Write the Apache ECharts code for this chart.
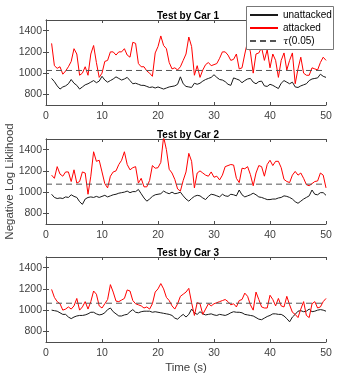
<!DOCTYPE html>
<html>
<head>
<meta charset="utf-8">
<script src="https://cdn.jsdelivr.net/npm/echarts@6/dist/echarts.min.js"></script>
<style>
  html, body { margin: 0; padding: 0; background: #fff; }
  #chart { width: 360px; height: 377px; }
</style>
</head>
<body>
<div id="chart"></div>
<script>
// time axis (s), one reading every 0.5 s
var time = [
  1, 1.5, 2, 2.5, 3, 3.5, 4, 4.5, 5, 5.5,
  6, 6.5, 7, 7.5, 8, 8.5, 9, 9.5, 10, 10.5,
  11, 11.5, 12, 12.5, 13, 13.5, 14, 14.5, 15, 15.5,
  16, 16.5, 17, 17.5, 18, 18.5, 19, 19.5, 20, 20.5,
  21, 21.5, 22, 22.5, 23, 23.5, 24, 24.5, 25, 25.5,
  26, 26.5, 27, 27.5, 28, 28.5, 29, 29.5, 30, 30.5,
  31, 31.5, 32, 32.5, 33, 33.5, 34, 34.5, 35, 35.5,
  36, 36.5, 37, 37.5, 38, 38.5, 39, 39.5, 40, 40.5,
  41, 41.5, 42, 42.5, 43, 43.5, 44, 44.5, 45, 45.5,
  46, 46.5, 47, 47.5, 48, 48.5, 49, 49.5, 50
];

var titles = ['Test by Car 1', 'Test by Car 2', 'Test by Car 3'];
var thresholds = [1025, 1075, 1065];
var xTicks = [0, 10, 20, 30, 40, 50];
var yTicks = [800, 1000, 1200, 1400];

var car1Attacked = [
  1280, 1070, 1045, 1060, 990, 1020, 1060, 1110, 1230, 1180,
  980, 1000, 1060, 980, 1180, 1260, 1100, 960, 1000, 1110,
  1120, 1200, 1200, 1170, 1200, 1200, 1230, 1170, 1150, 1290,
  1280, 1090, 1060, 1060, 1020, 1000, 970, 1190, 1250, 1350,
  1260, 1230, 1100, 1040, 1050, 1030, 1060, 1120, 1180, 1340,
  1250, 980, 1070, 960, 1030, 1080, 1100, 1070, 1080, 1090,
  1140, 1200, 1200, 1170, 1120, 1130, 1180, 1040, 1050, 1180,
  1300, 1200, 1000, 1180, 1190, 1240, 1120, 1220, 1050, 1180,
  1120, 960, 1120, 1190, 1030, 1120, 1190, 900, 1040, 1150,
  1000, 980, 980, 1050, 1040, 1030, 1100, 1150, 1120
];
var car1Normal = [
  950, 920, 880, 850, 870, 880, 900, 940, 905, 885,
  850, 870, 890, 900, 915, 930, 910, 925, 970, 935,
  915, 930, 945, 965, 950, 935, 945, 960, 930, 900,
  905, 895, 885, 885, 875, 865, 870, 860, 870, 860,
  850, 860, 870, 875, 880, 895, 965, 900, 875, 870,
  865, 905, 895, 905, 925, 940, 950, 960, 985, 960,
  940, 935, 920, 895, 885, 955, 945, 935, 910, 930,
  945, 950, 915, 900, 920, 925, 880, 875, 895, 885,
  870, 855, 905, 930, 915, 900, 915, 870, 865, 880,
  890, 900, 930, 945, 950, 955, 990, 970, 960
];

var car2Attacked = [
  1160, 1130, 1240, 1170, 1150, 1190, 1190, 1100, 1210, 1085,
  1100, 1190, 1180, 980, 1150, 1380, 1290, 1300, 1190, 1080,
  1040, 1150, 1190, 1200, 1260, 1300, 1380, 1260, 1210, 1230,
  1240, 1085, 1130, 1050, 1050, 1110, 1250, 1225, 1230, 1280,
  1520, 1400, 1215, 1180, 1120, 1030, 1010, 1110, 1190, 1365,
  1290, 1040, 1180, 1200, 1180, 1160, 1150, 1190, 1140, 1150,
  1115, 1160, 1240, 1250, 1260, 1255, 1130, 1090, 1225, 1220,
  1240, 1165, 1060, 1180, 1250, 1240, 1150, 1260, 1300, 1250,
  1290, 1290, 1230, 1120, 1100, 1090, 1160, 1195, 1160, 1180,
  1130, 1070, 1060, 1080, 1100, 1105, 1180, 1160, 1040
];
var car2Normal = [
  980, 950, 940, 945, 940, 955, 950, 975, 960, 950,
  910, 885, 935, 950, 955, 950, 960, 950, 960, 970,
  955, 965, 975, 980, 990, 995, 1000, 1010, 995, 1005,
  1005, 1025, 985, 945, 915, 935, 960, 975, 980, 985,
  1010, 995, 985, 1000, 985, 990, 1000, 965, 935, 915,
  940, 960, 970, 965, 945, 930, 960, 980, 975, 965,
  955, 980, 965, 960, 980, 975, 965, 1020, 975, 955,
  965, 975, 990, 975, 955, 950, 940, 930, 930, 935,
  935, 945, 950, 965, 960, 950, 935, 910, 895, 915,
  935, 950, 965, 1020, 980, 975, 995, 995, 970
];

var car3Attacked = [
  1195, 1120, 1080, 1060, 1000, 1010, 1030, 1010, 1040, 1110,
  1000, 1030, 1080, 1010, 1080, 1180, 1150, 1040, 1020, 1060,
  1100, 1240, 1170, 1085, 1080, 1095, 1110, 1190, 1180, 1090,
  1060, 1050, 1040, 1020, 1030, 1010, 1060, 1170, 1200, 1250,
  1200, 1120, 1090, 1040, 1010, 1060, 1130, 1150, 1170, 1205,
  1070, 950, 1070, 1060, 960, 1010, 1060, 1040, 1060, 1070,
  1080, 1090, 1100, 1080, 1050, 1060, 1030, 1090, 1100, 1160,
  1130, 1050, 1000, 1170, 1100, 1030, 1020, 1020, 1140, 1100,
  1040, 1110, 1040, 1030, 1130, 1050, 980, 960, 930, 1010,
  1080, 950, 930, 1060, 1080, 1020, 1030, 1080, 1110
];
var car3Normal = [
  1000, 995, 990, 975, 960, 960, 935, 920, 935, 945,
  950, 950, 955, 965, 980, 980, 965, 955, 960, 975,
  1005, 1020, 985, 965, 945, 945, 955, 960, 985, 1005,
  980, 975, 985, 990, 990, 990, 980, 985, 980, 975,
  970, 965, 960, 950, 925, 915, 940, 960, 935, 960,
  1010, 975, 960, 985, 965, 955, 960, 965, 955, 950,
  960, 955, 950, 960, 975, 985, 980, 980, 975, 960,
  955, 950, 945, 930, 915, 910, 925, 940, 950, 965,
  965, 960, 960, 945, 920, 890, 935, 960, 990, 995,
  985, 990, 1010, 985, 990, 1000, 1005, 1000, 990
];

var attacked = [car1Attacked, car2Attacked, car3Attacked];
var normal = [car1Normal, car2Normal, car3Normal];

var axisColor = '#4d4d4d';
var gridTops = [20, 139, 257];
var gridHeight = 85;

function pairs(vals) {
  return vals.map(function (v, i) { return [time[i], v]; });
}
function plain(v) { return String(v); }

var grids = [], xAxes = [], yAxes = [], series = [], titleList = [];

gridTops.forEach(function (top, i) {
  grids.push({left: 46, right: 34, top: top, height: gridHeight, outerBoundsMode: 'none', containLabel: false});
  titleList.push({
    text: titles[i],
    left: 183,
    top: top - 14,
    textAlign: 'center',
    textStyle: {fontFamily: 'Liberation Sans', fontSize: 10, fontWeight: 'bold', color: '#000'}
  });
  var lineCommon = {show: true, lineStyle: {color: axisColor, width: 1}};
  xAxes.push({
    type: 'value', gridIndex: i, min: 0, max: 50, interval: 10,
    axisLine: lineCommon,
    axisTick: {inside: true, length: 3, lineStyle: {color: axisColor}},
    axisLabel: {
      margin: 6, color: '#404040', fontFamily: 'Liberation Sans', fontSize: 10.5,
      customValues: xTicks, formatter: plain
    },
    splitLine: {show: false},
    name: i === 2 ? 'Time (s)' : '',
    nameLocation: 'middle',
    nameGap: 20,
    nameMoveOverlap: false,
    nameTextStyle: {color: '#404040', fontFamily: 'Liberation Sans', fontSize: 11.5}
  });
  xAxes.push({
    type: 'value', gridIndex: i, min: 0, max: 50, interval: 10, position: 'top',
    axisLine: lineCommon,
    axisTick: {inside: true, length: 3, lineStyle: {color: axisColor}},
    axisLabel: {show: false},
    splitLine: {show: false}
  });
  yAxes.push({
    type: 'value', gridIndex: i, min: 700, max: 1500,
    axisLine: lineCommon,
    axisTick: {inside: true, length: 3, lineStyle: {color: axisColor}, customValues: yTicks},
    axisLabel: {
      margin: 4, color: '#404040', fontFamily: 'Liberation Sans', fontSize: 10.5,
      customValues: yTicks, formatter: plain
    },
    splitLine: {show: false},
    name: i === 1 ? 'Negative Log Liklihood' : '',
    nameLocation: 'middle',
    nameGap: 30,
    nameMoveOverlap: false,
    nameTextStyle: {color: '#404040', fontFamily: 'Liberation Sans', fontSize: 11.5}
  });
  yAxes.push({
    type: 'value', gridIndex: i, min: 700, max: 1500, position: 'right',
    axisLine: lineCommon,
    axisTick: {inside: true, length: 3, lineStyle: {color: axisColor}, customValues: yTicks},
    axisLabel: {show: false},
    splitLine: {show: false}
  });

  series.push({
    name: 'unattacked', type: 'line', xAxisIndex: 2 * i, yAxisIndex: 2 * i,
    symbol: 'none', data: pairs(normal[i]),
    lineStyle: {color: '#1a1a1a', width: 1}, itemStyle: {color: '#1a1a1a'}
  });
  series.push({
    name: 'attacked', type: 'line', xAxisIndex: 2 * i, yAxisIndex: 2 * i,
    symbol: 'none', data: pairs(attacked[i]),
    lineStyle: {color: '#ff0000', width: 1}, itemStyle: {color: '#ff0000'}
  });
  series.push({
    name: 'τ(0.05)', type: 'line', xAxisIndex: 2 * i, yAxisIndex: 2 * i,
    symbol: 'none', data: [[0, thresholds[i]], [50, thresholds[i]]],
    lineStyle: {color: '#555', width: 1, type: [6, 4]}, itemStyle: {color: '#555'}
  });
});

var chart = echarts.init(document.getElementById('chart'));
chart.setOption({
  animation: false,
  backgroundColor: '#fff',
  title: titleList,
  // legend box drawn separately so its size matches the original
  graphic: [{
    type: 'rect', z: 8,
    shape: {x: 246.5, y: 6.5, width: 87, height: 43},
    style: {fill: '#fff', stroke: '#777', lineWidth: 1}
  }],
  legend: {
    data: ['unattacked', 'attacked', 'τ(0.05)'],
    orient: 'vertical',
    left: 246,
    top: 7,
    padding: [3, 3, 3, 3],
    itemGap: 3,
    itemWidth: 28,
    itemHeight: 11,
    z: 10,
    itemStyle: {opacity: 0},
    textStyle: {
      fontFamily: 'Liberation Sans', fontSize: 10, color: '#000',
      rich: {i: {fontStyle: 'italic', fontFamily: 'DejaVu Serif', fontSize: 10}}
    },
    formatter: function (name) {
      return name === 'τ(0.05)' ? '{i|τ}(0.05)' : name;
    }
  },
  grid: grids,
  xAxis: xAxes,
  yAxis: yAxes,
  series: series
});
</script>
</body>
</html>
